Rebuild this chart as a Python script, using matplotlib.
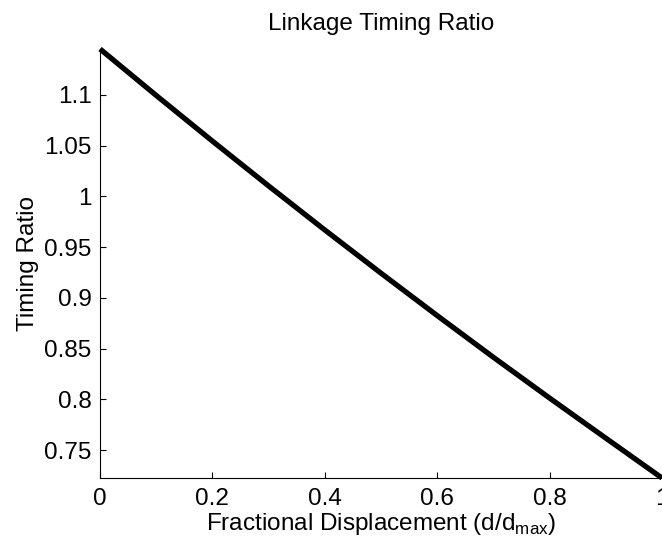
""" Linkage timing ratio plot. """
import matplotlib
matplotlib.use("Agg")
import matplotlib.pyplot as plt

# values
displacement = [0.0, 0.1, 0.2, 0.3, 0.4, 0.5, 0.6, 0.7, 0.8, 0.9, 1.0]
timing_ratio = [1.1453, 1.0995, 1.0545, 1.0103, 0.9669, 0.9243,
                0.8825, 0.8414, 0.8012, 0.7617, 0.7224]
x_ticks = [0, 0.2, 0.4, 0.6, 0.8, 1]
x_tick_labels = ["0", "0.2", "0.4", "0.6", "0.8", "1"]
y_ticks = [0.75, 0.8, 0.85, 0.9, 0.95, 1, 1.05, 1.1]
y_tick_labels = ["0.75", "0.8", "0.85", "0.9", "0.95", "1", "1.05", "1.1"]

plt.rcParams['font.family'] = ['Liberation Sans', 'DejaVu Sans']
plt.rcParams['font.size'] = 17.5

fig = plt.figure(figsize=(6.62, 5.48), dpi=100)
ax = fig.add_axes([0.1511, 0.1277, 0.8489, 0.7829])

ax.plot(displacement, timing_ratio, color='black', linewidth=3.8,
        solid_capstyle='butt', clip_on=False)

ax.set_xlim(0, 1)
ax.set_ylim(min(timing_ratio), max(timing_ratio))
ax.set_xticks(x_ticks)
ax.set_xticklabels(x_tick_labels)
ax.set_yticks(y_ticks)
ax.set_yticklabels(y_tick_labels)

ax.spines['top'].set_visible(False)
ax.spines['right'].set_visible(False)
for side in ('left', 'bottom'):
    ax.spines[side].set_linewidth(0.8)
ax.tick_params(direction='in', length=4, width=0.8)
ax.tick_params(axis='x', pad=7)
ax.tick_params(axis='y', pad=6)

ax.set_title('Linkage Timing Ratio', fontsize=17.5, pad=14)
ax.set_xlabel(r'Fractional Displacement (d/d$_{\mathregular{max}}$)', labelpad=1)
ax.set_ylabel('Timing Ratio', labelpad=4)

fig.savefig('out.png', dpi=100)
